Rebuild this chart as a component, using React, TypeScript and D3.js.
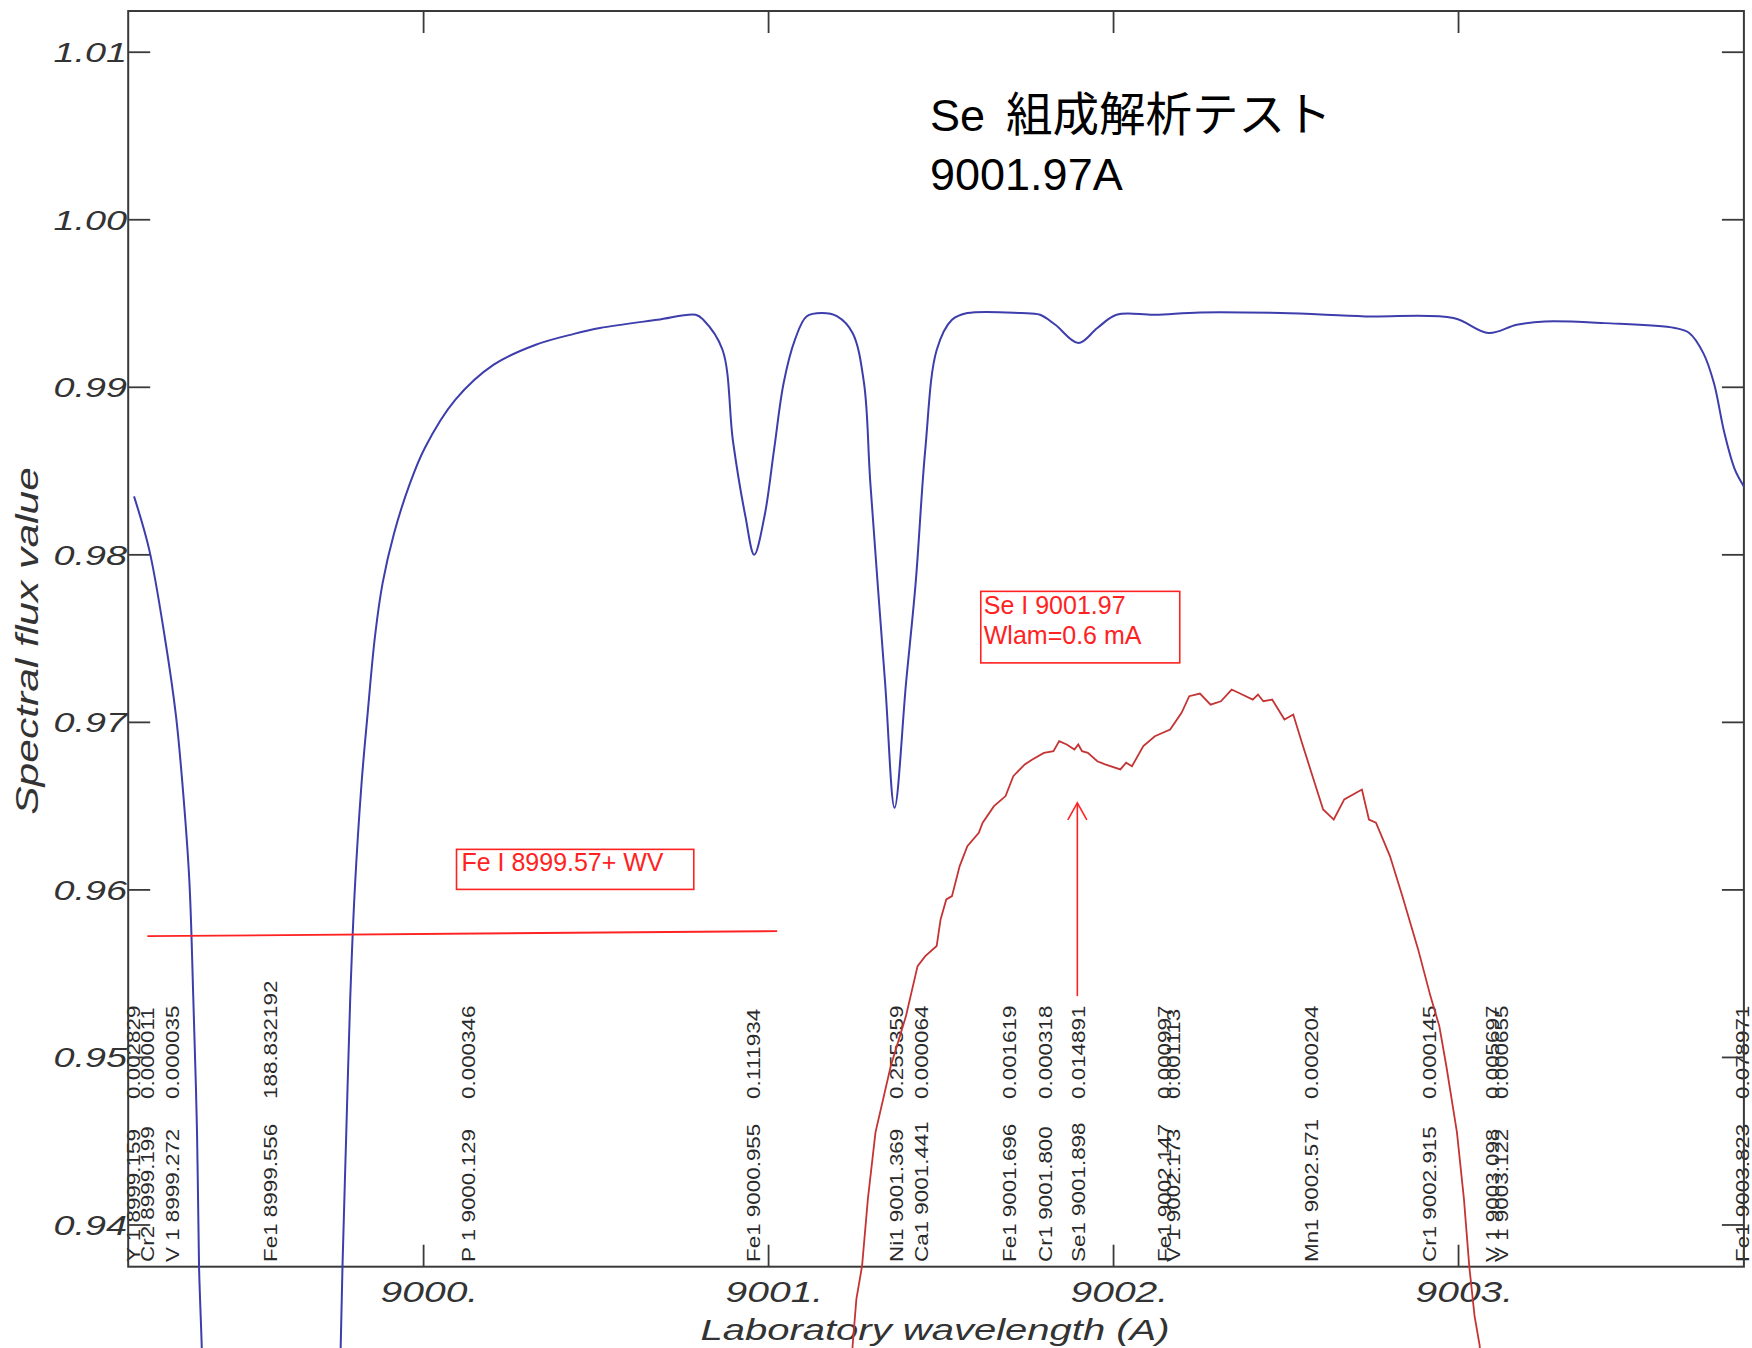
import React from "react";
import * as d3 from "d3";

// ---- data ----
const modelSpectrum: [number, number][] = [
  [8999.1606, 0.98349], [8999.2046, 0.98031], [8999.2493, 0.97514], [8999.2823, 0.97037],
  [8999.3046, 0.9654], [8999.3212, 0.96045], [8999.3325, 0.95347], [8999.3432, 0.94553],
  [8999.349, 0.93756], [8999.3568, 0.93279], [8999.3606, 0.92961], [8999.556, 0.8],
  [8999.7562, 0.92961], [8999.7597, 0.93279], [8999.7649, 0.93756], [8999.7759, 0.94553],
  [8999.7872, 0.95347], [8999.8003, 0.95993], [8999.8203, 0.96641],
  [8999.8371, 0.97037], [8999.8591, 0.97514], [8999.8814, 0.97834], [8999.9148, 0.98132],
  [8999.9591, 0.98419], [9000.0035, 0.98638], [9000.0922, 0.98926], [9000.2032, 0.99135],
  [9000.3252, 0.99254], [9000.4359, 0.99319], [9000.5113, 0.99354], [9000.6777, 0.99403],
  [9000.7887, 0.99433], [9000.8107, 0.99403], [9000.8664, 0.99224], [9000.8968, 0.98678],
  [9000.9328, 0.9823], [9000.9583, 0.98001], [9000.9881, 0.9823],
  [9001.0159, 0.98628], [9001.0438, 0.99027], [9001.0765, 0.99284], [9001.1101, 0.99423],
  [9001.1548, 0.99443], [9001.1991, 0.99423], [9001.2435, 0.99324], [9001.2765, 0.99027],
  [9001.2949, 0.98431], [9001.3377, 0.97238], [9001.3652, 0.9649],
  [9001.3986, 0.97238], [9001.4264, 0.97834], [9001.4542, 0.98628], [9001.4875, 0.99224],
  [9001.5316, 0.99403], [9001.5762, 0.99443], [9001.7316, 0.99443], [9001.7867, 0.99433],
  [9001.8313, 0.99373], [9001.898, 0.99264], [9001.953, 0.99354], [9002.0087, 0.99433],
  [9002.1197, 0.99433], [9002.2504, 0.99447], [9002.4852, 0.99443], [9002.7299, 0.99423],
  [9002.9849, 0.99413], [9003.087, 0.99324], [9003.1687, 0.99373], [9003.2504, 0.99393],
  [9003.4238, 0.99383], [9003.6272, 0.99354], [9003.6687, 0.99324], [9003.7096, 0.99204],
  [9003.7403, 0.99025], [9003.7707, 0.98727], [9003.8012, 0.98508],
  [9003.8267, 0.98409],
];

const observedSpectrum: [number, number][] = [
  [9001.2374, 0.92961], [9001.2435, 0.93279], [9001.2545, 0.93557], [9001.271, 0.93756],
  [9001.2878, 0.94154], [9001.3099, 0.94553], [9001.3542, 0.94949], [9001.3983, 0.95247],
  [9001.4319, 0.95545], [9001.4542, 0.95605], [9001.4872, 0.95665], [9001.4986, 0.95824],
  [9001.5151, 0.95943], [9001.5316, 0.95963], [9001.5539, 0.96142], [9001.5762, 0.96261],
  [9001.6093, 0.96341], [9001.6206, 0.96401], [9001.6533, 0.965], [9001.687, 0.9656],
  [9001.7093, 0.96679], [9001.7426, 0.96749], [9001.7646, 0.96778], [9001.798, 0.96818],
  [9001.8258, 0.96828], [9001.8423, 0.96888], [9001.8643, 0.96868], [9001.8867, 0.96838],
  [9001.8977, 0.96868], [9001.9087, 0.96828], [9001.9255, 0.96818], [9001.953, 0.96768],
  [9001.9754, 0.96749], [9002.0197, 0.96719], [9002.0365, 0.96759], [9002.0533, 0.96738],
  [9002.0863, 0.96858], [9002.1197, 0.96917], [9002.1641, 0.96957], [9002.1971, 0.97057],
  [9002.2194, 0.97156], [9002.2504, 0.97172], [9002.2812, 0.97106], [9002.3113, 0.97126],
  [9002.3423, 0.97196], [9002.3728, 0.97166], [9002.4035, 0.97136], [9002.4186, 0.97166],
  [9002.4342, 0.97126], [9002.4597, 0.97136], [9002.4954, 0.97017], [9002.5209, 0.97047],
  [9002.5461, 0.96878], [9002.5768, 0.96679], [9002.6075, 0.9648], [9002.6383, 0.9642],
  [9002.6687, 0.9654], [9002.72, 0.96599], [9002.7403, 0.9642], [9002.7606, 0.96401],
  [9002.8012, 0.96202], [9002.8371, 0.95963], [9002.8829, 0.95645], [9002.9186, 0.95366],
  [9002.9443, 0.95187], [9002.9646, 0.94949], [9002.9954, 0.94553], [9003.0157, 0.94154],
  [9003.031, 0.93756], [9003.0464, 0.93458], [9003.0614, 0.93279], [9003.0678, 0.92961],
];

const lineIons = ["Y 1", "Cr2", "V 1", "Fe1", "P 1", "Fe1", "Ni1", "Ca1", "Fe1", "Cr1", "Se1", "Fe1", "V 1", "Mn1", "Cr1", "V 1", "V 1", "Fe1"];
const lineWavelengths = [8999.159, 8999.199, 8999.272, 8999.556, 9000.129, 9000.955, 9001.369, 9001.441, 9001.696, 9001.8, 9001.898, 9002.147, 9002.173, 9002.571, 9002.915, 9003.098, 9003.122, 9003.823];
const lineStrengths = ["0.002829", "0.000011", "0.000035", "188.832192", "0.000346", "0.111934", "0.255359", "0.000064", "0.001619", "0.000318", "0.014891", "0.000997", "0.001113", "0.000204", "0.000145", "0.005697", "0.000655", "0.078971"];

const xTicks = [9000, 9001, 9002, 9003];
const yTicks = [0.94, 0.95, 0.96, 0.97, 0.98, 0.99, 1.0, 1.01];

const feLine: [number, number][] = [[8999.1991, 0.95724], [9001.0249, 0.95754]];
const feBox = { wl: [9000.0954, 9000.7832], flux: [0.96242, 0.96003], text: "Fe I 8999.57+ WV" };
const seBox = { wl: [9001.6151, 9002.1919], flux: [0.97782, 0.97355], lines: ["Se I 9001.97", "Wlam=0.6 mA"] };
const seArrow = { wl: 9001.895, from: 0.95366, to: 0.9652 };

const titleLine1a = "Se";
const titleLine1b = "組成解析テスト";
const titleLine2 = "9001.97A";
const xLabel = "Laboratory wavelength (A)";
const yLabel = "Spectral flux value";

// ---- layout ----
const W = 1752, H = 1348;
const P = { left: 128.2, right: 1743.9, top: 11, bottom: 1266.7 };
const SANS = "'Liberation Sans', Arial, 'Noto Sans CJK JP', sans-serif";

export default function App() {
  const x = d3.scaleLinear().domain([8999.1437, 9003.8272]).range([P.left, P.right]);
  const y = d3.scaleLinear().domain([0.93751, 1.01246]).range([P.bottom, P.top]);

  const smooth = d3.line<[number, number]>().x(d => x(d[0])).y(d => y(d[1])).curve(d3.curveCatmullRom.alpha(0.5));
  const jag = d3.line<[number, number]>().x(d => x(d[0])).y(d => y(d[1]));

  const axisColor = "#3a3a3a";
  const tickLen = 22;
  const red = "#ff2222";

  return (
    <svg width={W} height={H} style={{ position: "absolute", left: 0, top: 0, display: "block", background: "#fff" }}
      fontFamily={SANS}>
      <rect x={0} y={0} width={W} height={H} fill="#fff" />

      {/* line identification labels */}
      {lineWavelengths.map((wl, i) => {
        const lx = x(wl) + 7;
        return (
          <g key={"lab" + i} fill="#2a2a2a" fontSize={19}>
            <text transform={`translate(${lx},1262) rotate(-90) scale(1.18,1)`}>
              {`${lineIons[i]} ${wl.toFixed(3)}`}
            </text>
            <text transform={`translate(${lx},1099) rotate(-90) scale(1.18,1)`}>
              {lineStrengths[i]}
            </text>
          </g>
        );
      })}

      {/* frame */}
      <rect x={P.left} y={P.top} width={P.right - P.left} height={P.bottom - P.top}
        fill="none" stroke={axisColor} strokeWidth={2} />

      {/* ticks */}
      {xTicks.map(t => (
        <g key={"xt" + t} stroke={axisColor} strokeWidth={1.8}>
          <line x1={x(t)} x2={x(t)} y1={P.bottom} y2={P.bottom - tickLen} />
          <line x1={x(t)} x2={x(t)} y1={P.top} y2={P.top + tickLen} />
        </g>
      ))}
      {yTicks.map(t => (
        <g key={"yt" + t} stroke={axisColor} strokeWidth={1.8}>
          <line x1={P.left} x2={P.left + tickLen} y1={y(t)} y2={y(t)} />
          <line x1={P.right} x2={P.right - tickLen} y1={y(t)} y2={y(t)} />
        </g>
      ))}

      {/* tick labels */}
      {yTicks.map(t => (
        <text key={"yl" + t} transform={`translate(127,${y(t) + 10}) scale(1.35,1)`}
          textAnchor="end" fontSize={28} fontStyle="italic" fill="#333">
          {t.toFixed(2)}
        </text>
      ))}
      {xTicks.map(t => (
        <text key={"xl" + t} transform={`translate(${x(t) - 43},1302) scale(1.3,1)`}
          fontSize={30} fontStyle="italic" fill="#333">
          {`${t}.`}
        </text>
      ))}

      {/* axis titles */}
      <text transform={`translate(935,1340) scale(1.38,1)`} textAnchor="middle" fontSize={29}
        fontStyle="italic" fill="#333">{xLabel}</text>
      <text transform={`translate(38,641) rotate(-90) scale(1.33,1)`} textAnchor="middle" fontSize={32}
        fontStyle="italic" fill="#333">{yLabel}</text>

      {/* spectra */}
      <path d={smooth(modelSpectrum) ?? ""} fill="none" stroke="#3d3dac" strokeWidth={2} />
      <path d={jag(observedSpectrum) ?? ""} fill="none" stroke="#c43434" strokeWidth={1.8} />

      {/* Fe annotation */}
      <line x1={x(feLine[0][0])} y1={y(feLine[0][1])} x2={x(feLine[1][0])} y2={y(feLine[1][1])}
        stroke={red} strokeWidth={1.8} />
      <rect x={x(feBox.wl[0])} y={y(feBox.flux[0])} width={x(feBox.wl[1]) - x(feBox.wl[0])}
        height={y(feBox.flux[1]) - y(feBox.flux[0])} fill="none" stroke={red} strokeWidth={1.6} />
      <text x={x(feBox.wl[0]) + 5} y={y(feBox.flux[0]) + 22} fontSize={25} fill={red}
        textLength={202} lengthAdjust="spacingAndGlyphs">{feBox.text}</text>

      {/* Se annotation */}
      <rect x={x(seBox.wl[0])} y={y(seBox.flux[0])} width={x(seBox.wl[1]) - x(seBox.wl[0])}
        height={y(seBox.flux[1]) - y(seBox.flux[0])} fill="none" stroke={red} strokeWidth={1.6} />
      {seBox.lines.map((s, i) => (
        <text key={"se" + i} x={x(seBox.wl[0]) + 3} y={y(seBox.flux[0]) + 23 + i * 30} fontSize={25} fill={red}>{s}</text>
      ))}
      <g stroke={red} strokeWidth={1.6} fill="none">
        <line x1={x(seArrow.wl)} x2={x(seArrow.wl)} y1={y(seArrow.from)} y2={y(seArrow.to)} />
        <polyline points={`${x(seArrow.wl) - 9.5},${y(seArrow.to) + 17} ${x(seArrow.wl)},${y(seArrow.to)} ${x(seArrow.wl) + 9.5},${y(seArrow.to) + 17}`} />
      </g>

      {/* title */}
      <text fill="#000">
        <tspan x={930} y={131} fontSize={45}>{titleLine1a}</tspan>
        <tspan x={1006} y={131} fontSize={46.5}>{titleLine1b}</tspan>
        <tspan x={930} y={190} fontSize={45}>{titleLine2}</tspan>
      </text>
    </svg>
  );
}
